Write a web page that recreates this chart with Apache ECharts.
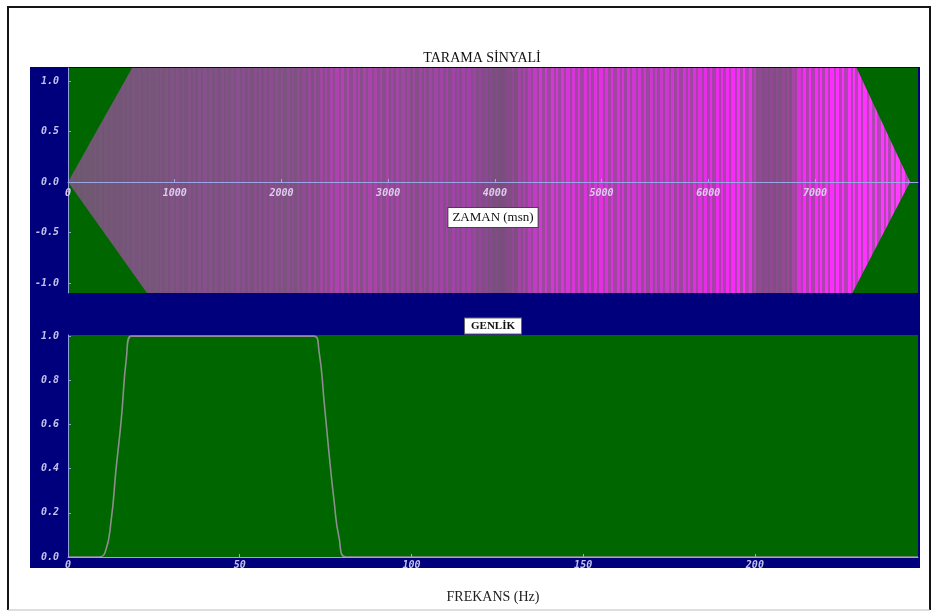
<!DOCTYPE html>
<html>
<head>
<meta charset="utf-8">
<script src="https://cdn.jsdelivr.net/npm/echarts@6/dist/echarts.min.js"></script>
<style>
  html, body { margin: 0; padding: 0; background: #ffffff; }
  #chart { width: 935px; height: 612px; }
</style>
</head>
<body>
<div id="chart"></div>
<script>
// Sweep signal (TARAMA SİNYALİ): amplitude envelope over time, ms
const sweepUpper = [[0, 0], [600, 1.13], [7390, 1.13], [7890, 0]];
const sweepLower = [[0, 0], [740, -1.1], [7350, -1.1], [7890, 0]];

// Amplitude spectrum (GENLİK) over frequency, Hz
const spectrumHz  = [0, 8.8, 10.8, 12.6, 14.0, 15.5, 17.0, 18.4, 71.6, 73.1, 74.6, 76.0, 77.5, 78.9, 81.0, 247.5];
const spectrumAmp = [0, 0,   0.02, 0.17, 0.40, 0.62, 0.90, 1.00, 1.00, 0.93, 0.70, 0.47, 0.25, 0.09, 0,    0];

// Tick labels
const timeTicks = [-1, -0.5, 0, 0.5, 1];
const ampTicks  = [0, 0.2, 0.4, 0.6, 0.8, 1.0];

// Colour bands of the sweep trace along the time axis (ms -> colour)
const traceBands = [
  [0, '#6f5a70'], [1237, '#86508c'], [2174, '#8e4c92'], [2549, '#b440b4'],
  [3111, '#a046a4'], [3767, '#a440ac'], [4049, '#7c4c80'], [4424, '#d038d4'],
  [4986, '#e030e0'], [5548, '#c838cc'], [6110, '#f028f0'], [6345, '#ff30ff'],
  [6485, '#8c4890'], [6767, '#984898'], [6860, '#fa28fa'], [7329, '#ff30ff'],
  [7910, '#ff40ff']
];

const NAVY = '#00007c';
const PLOT = '#006600';
const TICK = '#c4c4f0';
const tickFont = { color: TICK, fontFamily: 'DejaVu Sans Mono', fontSize: 10, fontStyle: 'italic', fontWeight: 'bold' };

const TIME_MIN = -1.1, TIME_MAX = 1.13, TOP_H = 225;
// distance from the bottom of the upper plot to its zero line
const zeroLift = TOP_H * (0 - TIME_MIN) / (TIME_MAX - TIME_MIN);

const chart = echarts.init(document.getElementById('chart'), null, { renderer: 'canvas' });

const pairs = spectrumHz.map((f, i) => [f, spectrumAmp[i]]);

function baseOption(fill) {
  return {
    animation: false,
    backgroundColor: '#ffffff',
    graphic: [
      { type: 'rect', z: -5, shape: { x: 30, y: 67, width: 890, height: 501 }, style: { fill: NAVY } },
      { type: 'polyline', z: 50, shape: { points: [[8, 610], [8, 7], [930, 7], [930, 610]] }, style: { stroke: '#151515', lineWidth: 2, fill: null } },
      { type: 'line', z: 50, shape: { x1: 8, y1: 610, x2: 930, y2: 610 }, style: { stroke: '#bdbdbd', lineWidth: 1 } },
      { type: 'text', z: 50, x: 482, y: 58, style: { text: 'TARAMA SİNYALİ', font: '14px "Liberation Serif"', fill: '#111', align: 'center', verticalAlign: 'middle' } },
      { type: 'text', z: 50, x: 493, y: 326, style: { text: 'GENLİK', font: 'bold 11px "Liberation Serif"', fill: '#111', align: 'center', verticalAlign: 'middle', backgroundColor: '#ffffff', borderColor: '#666', borderWidth: 1, padding: [2, 6] } }
    ],
    grid: [
      { left: 68, top: 68, width: 850, height: TOP_H, show: true, backgroundColor: PLOT, borderWidth: 0 },
      { left: 68, top: 335, width: 850, height: 222, show: true, backgroundColor: PLOT, borderWidth: 0 }
    ],
    xAxis: [
      {
        gridIndex: 0, type: 'value', min: 0, max: 7965, interval: 1000, z: 10,
        offset: -zeroLift,
        name: 'ZAMAN (msn)', nameLocation: 'middle', nameGap: 26,
        nameTextStyle: { fontFamily: 'Liberation Serif', fontSize: 13, color: '#111', backgroundColor: '#ffffff', borderColor: '#444', borderWidth: 1, padding: [3, 4] },
        axisLine: { onZero: false, lineStyle: { color: '#9aa6e6', width: 1 } },
        axisTick: { inside: true, length: 3, lineStyle: { color: '#9aa6e6' } },
        axisLabel: Object.assign({ margin: 6, showMaxLabel: false, formatter: v => String(v) }, tickFont, { color: '#e0ccf0' }),
        splitLine: { show: false }
      },
      {
        gridIndex: 1, type: 'value', min: 0, max: 247.5, interval: 50, z: 10,
        name: 'FREKANS (Hz)', nameLocation: 'middle', nameGap: 33,
        nameTextStyle: { fontFamily: 'Liberation Serif', fontSize: 14, color: '#222' },
        axisLine: { onZero: false, lineStyle: { color: '#9aa6e6', width: 1 } },
        axisTick: { inside: true, length: 3, lineStyle: { color: '#9aa6e6' } },
        axisLabel: Object.assign({ margin: 3, showMaxLabel: false, formatter: v => String(v) }, tickFont),
        splitLine: { show: false }
      }
    ],
    yAxis: [
      {
        gridIndex: 0, type: 'value', min: TIME_MIN, max: TIME_MAX, z: 10,
        axisLine: { show: true, onZero: false, lineStyle: { color: '#8fa0d8' } },
        axisTick: { inside: true, length: 3, customValues: timeTicks, lineStyle: { color: '#8fa0d8' } },
        axisLabel: Object.assign({ margin: 9, customValues: timeTicks, formatter: v => v.toFixed(1), padding: [7, 0, 0, 0] }, tickFont),
        splitLine: { show: false }
      },
      {
        gridIndex: 1, type: 'value', min: 0, max: 1.005, z: 10,
        axisLine: { show: true, onZero: false, lineStyle: { color: '#8fa0d8' } },
        axisTick: { inside: true, length: 3, customValues: ampTicks, lineStyle: { color: '#8fa0d8' } },
        axisLabel: Object.assign({ margin: 9, customValues: ampTicks, formatter: v => v.toFixed(1), padding: [7, 0, 0, 0] }, tickFont),
        splitLine: { show: false }
      }
    ],
    series: [
      {
        type: 'line', xAxisIndex: 0, yAxisIndex: 0, data: sweepUpper, symbol: 'none',
        lineStyle: { width: 0 }, areaStyle: { color: fill, opacity: 1 }, z: 2
      },
      {
        type: 'line', xAxisIndex: 0, yAxisIndex: 0, data: sweepLower, symbol: 'none',
        lineStyle: { width: 0 }, areaStyle: { color: fill, opacity: 1 }, z: 2
      },
      {
        type: 'line', xAxisIndex: 1, yAxisIndex: 1, data: pairs, symbol: 'none',
        smooth: 0.5,
        lineStyle: { color: '#8e8e8e', width: 1.6 }, z: 3
      }
    ]
  };
}

chart.setOption(baseOption('#a040a8'));

// Striped texture for the sweep trace, laid out in pixel space along the time axis
function hexToRgb(h) {
  const n = parseInt(h.slice(1), 16);
  return [(n >> 16) & 255, (n >> 8) & 255, n & 255];
}
function bandColour(px, stops) {
  if (px <= stops[0][0]) return hexToRgb(stops[0][1]);
  for (let i = 1; i < stops.length; i++) {
    if (px <= stops[i][0]) {
      const a = stops[i - 1], b = stops[i];
      const k = (px - a[0]) / (b[0] - a[0]);
      const ca = hexToRgb(a[1]), cb = hexToRgb(b[1]);
      return ca.map((c, j) => Math.round(c + (cb[j] - c) * k));
    }
  }
  return hexToRgb(stops[stops.length - 1][1]);
}
function buildTexture() {
  const stops = traceBands.map(([t, c]) => [chart.convertToPixel({ xAxisIndex: 0 }, t), c]);
  const cvs = document.createElement('canvas');
  cvs.width = 935; cvs.height = 4;
  const ctx = cvs.getContext('2d');
  const widths = [3, 2, 4, 2, 3, 3, 2, 4, 3, 2, 2, 3];
  const dim = [110, 86, 112];
  let x = 0, i = 0;
  while (x < 935) {
    const w = widths[i % widths.length];
    const c = bandColour(x, stops);
    const col = (i % 2 === 0) ? c : c.map((v, j) => Math.round(v * 0.45 + dim[j] * 0.55));
    ctx.fillStyle = 'rgb(' + col.join(',') + ')';
    ctx.fillRect(x, 0, w, 4);
    x += w; i++;
  }
  return { image: cvs, repeat: 'repeat' };
}

chart.setOption(baseOption(buildTexture()));
</script>
</body>
</html>
